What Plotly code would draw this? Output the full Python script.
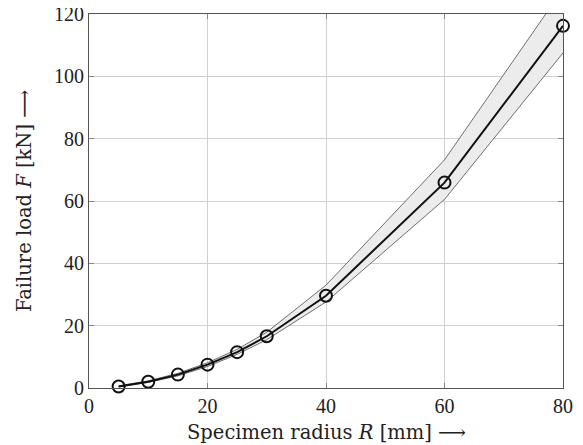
import plotly.graph_objects as go

radius = [5, 10, 15, 20, 25, 30, 40, 60, 80]
load_mean = [0.5, 2.0, 4.3, 7.5, 11.5, 16.6, 29.6, 65.9, 116.2]
load_upper = [0.7, 2.3, 4.7, 8.1, 12.4, 17.9, 33.0, 73.2, 128.0]
load_lower = [0.35, 1.8, 3.9, 6.9, 10.8, 15.5, 27.6, 60.5, 107.5]
x_ticks = [0, 20, 40, 60, 80]
y_ticks = [0, 20, 40, 60, 80, 100, 120]
x_title = "Specimen radius <i>R</i> [mm] ⟶"
y_title = "Failure load <i>F</i> [kN] ⟶"

TICK_FONT = "Liberation Serif"
TITLE_FONT = "DejaVu Serif"
TXT = "#222222"

fig = go.Figure()
fig.add_trace(go.Scatter(x=radius, y=load_lower, mode="lines",
                         line=dict(color="#333333", width=0.7), showlegend=False))
fig.add_trace(go.Scatter(x=radius, y=load_upper, mode="lines", fill="tonexty",
                         fillcolor="#ececec",
                         line=dict(color="#333333", width=0.7), showlegend=False))
fig.add_trace(go.Scatter(x=radius, y=load_mean, mode="lines+markers",
                         line=dict(color="#111111", width=2),
                         marker=dict(symbol="circle-open", size=12, color="#111111",
                                     line=dict(width=2)),
                         cliponaxis=False, showlegend=False))

axis_common = dict(showgrid=True, gridcolor="#d0d0d0", gridwidth=1,
                   showline=True, linecolor="#555555", linewidth=1.2, mirror="ticks",
                   ticks="inside", ticklen=5, tickcolor="#888888", zeroline=False,
                   automargin=False, ticklabeloverflow="allow",
                   tickfont=dict(family=TICK_FONT, size=20, color=TXT))

fig.update_xaxes(range=[0, 80], tickvals=x_ticks, **axis_common)
fig.update_yaxes(range=[0, 120], tickvals=y_ticks, **axis_common)

fig.add_annotation(text=x_title, xref="paper", yref="paper", x=0.5, y=0,
                   xanchor="center", yanchor="middle", yshift=-44, showarrow=False,
                   font=dict(family=TITLE_FONT, size=19.5, color=TXT))
fig.add_annotation(text=y_title, xref="paper", yref="paper", x=0, y=0.5,
                   xanchor="center", yanchor="middle", xshift=-65, textangle=-90,
                   showarrow=False, font=dict(family=TITLE_FONT, size=19.5, color=TXT))

fig.update_layout(width=575, height=437, margin=dict(l=81, r=20, t=6, b=57),
                  plot_bgcolor="white", paper_bgcolor="white")

fig.write_html("out.html")
